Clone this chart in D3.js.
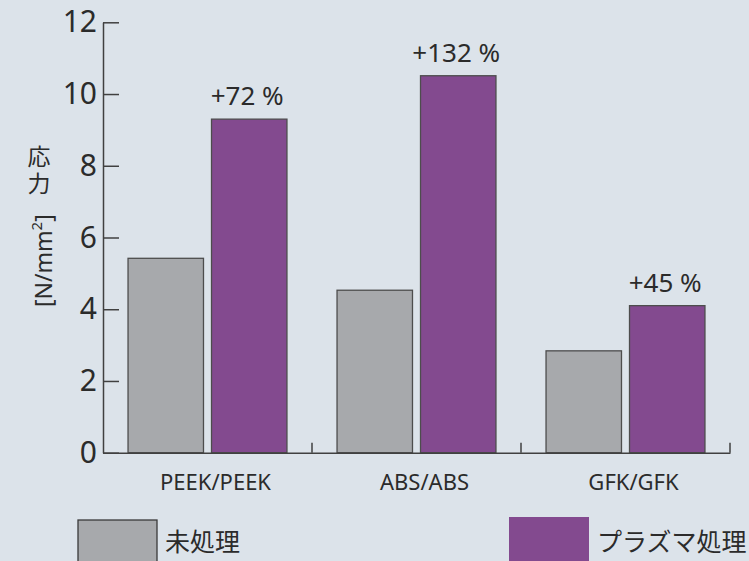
<!DOCTYPE html>
<html>
<head>
<meta charset="utf-8">
<script src="https://cdn.jsdelivr.net/npm/d3@7"></script>
<style>
  html, body { margin: 0; padding: 0; background: #dce3ea; }
  svg { display: block; }
  text { font-family: "Noto Sans", "Noto Sans CJK JP", sans-serif; fill: #2b2b2b; }
</style>
</head>
<body>
<div id="main"></div>
<script>
const categories = ["PEEK/PEEK", "ABS/ABS", "GFK/GFK"]
const seriesNames = ["未処理", "プラズマ処理"]
const untreated = [5.42, 4.53, 2.84]
const plasma = [9.30, 10.51, 4.10]
const gainLabels = ["+72 %", "+132 %", "+45 %"]
const yTicks = [0, 2, 4, 6, 8, 10, 12]

const width = 749
const height = 561
const x0 = 103, x1 = 730
const yBottom = 452.7, yTop = 22.3
const colors = ["#a7a9ac", "#834a8f"]

const rows = categories.map((c, i) => ({
  cat: c,
  values: [untreated[i], plasma[i]],
  gain: gainLabels[i]
}))

const svg = d3.select("#main").append("svg")
  .attr("width", width)
  .attr("height", height)

svg.append("rect")
  .attr("width", width)
  .attr("height", height)
  .attr("fill", "#dce3ea")

const xScale = d3.scaleBand()
  .domain(categories)
  .range([x0, x1])

const xInner = d3.scaleBand()
  .domain([0, 1])
  .range([0, xScale.bandwidth()])
  .paddingInner(0.096)
  .paddingOuter(0.3)

const yScale = d3.scaleLinear()
  .domain([0, 12])
  .range([yBottom, yTop])

// bars
const groups = svg.append("g").selectAll("g")
  .data(rows)
  .join("g")
  .attr("transform", d => `translate(${xScale(d.cat)},0)`)

groups.selectAll("rect")
  .data(d => d.values.map((v, k) => ({ v, k })))
  .join("rect")
  .attr("x", d => xInner(d.k))
  .attr("y", d => yScale(d.v))
  .attr("width", xInner.bandwidth())
  .attr("height", d => yScale(0) - yScale(d.v))
  .attr("fill", d => colors[d.k])
  .attr("stroke", "#4d4d4d")
  .attr("stroke-width", 1.3)

groups.append("text")
  .attr("x", xInner(1) + xInner.bandwidth() / 2 - 2)
  .attr("y", d => yScale(d.values[1]) - 14)
  .attr("text-anchor", "middle")
  .attr("font-size", 26)
  .text(d => d.gain)

// y axis
const yAxis = d3.axisLeft(yScale)
  .tickValues(yTicks)
  .tickSizeInner(-16)
  .tickSizeOuter(0)
  .tickPadding(6)

const gy = svg.append("g")
  .attr("transform", `translate(${x0},0)`)
  .call(yAxis)
gy.selectAll("path, line").attr("stroke", "#404040").attr("stroke-width", 1.5)
gy.selectAll("text")
  .attr("font-size", 30)
  .attr("font-family", "Noto Sans, sans-serif")
  .attr("fill", "#2b2b2b")

// x axis
const xAxis = d3.axisBottom(xScale)
  .tickSize(0)
  .tickPadding(22)

const gx = svg.append("g")
  .attr("transform", `translate(0,${yBottom})`)
  .call(xAxis)
gx.select(".domain").attr("stroke", "#404040").attr("stroke-width", 1.5)
gx.selectAll("text")
  .attr("font-size", 22)
  .attr("font-family", "Noto Sans, sans-serif")
  .attr("fill", "#2b2b2b")
  .attr("dx", 8)

gx.selectAll(".sep")
  .data(categories)
  .join("line")
  .attr("class", "sep")
  .attr("x1", d => xScale(d) + xScale.bandwidth())
  .attr("x2", d => xScale(d) + xScale.bandwidth())
  .attr("y1", 0)
  .attr("y2", -10)
  .attr("stroke", "#404040")
  .attr("stroke-width", 1.5)

// y title: latin part turned, kanji upright on top
const title = svg.append("text")
  .attr("transform", "translate(52,307) rotate(-90)")
  .attr("font-size", 23)
title.append("tspan").text("[N/mm")
title.append("tspan").attr("font-size", 15).attr("dy", -10).text("2")
title.append("tspan").attr("dy", 10).text("]")

svg.append("text")
  .attr("x", 38)
  .attr("y", 145)
  .attr("writing-mode", "vertical-rl")
  .attr("letter-spacing", 4)
  .attr("font-size", 23)
  .text("応力")

// legend
const legend = [
  { name: seriesNames[0], color: colors[0], x: 78, y: 520, w: 79, stroke: "#3a3a3a" },
  { name: seriesNames[1], color: colors[1], x: 509, y: 517, w: 80, stroke: "none" }
]
const lg = svg.append("g").selectAll("g")
  .data(legend)
  .join("g")
lg.append("rect")
  .attr("x", d => d.x)
  .attr("y", d => d.y)
  .attr("width", d => d.w)
  .attr("height", 60)
  .attr("fill", d => d.color)
  .attr("stroke", d => d.stroke)
  .attr("stroke-width", 1.3)
lg.append("text")
  .attr("x", d => d.x + d.w + 8)
  .attr("y", 551)
  .attr("font-size", 25)
  .text(d => d.name)
</script>
</body>
</html>
